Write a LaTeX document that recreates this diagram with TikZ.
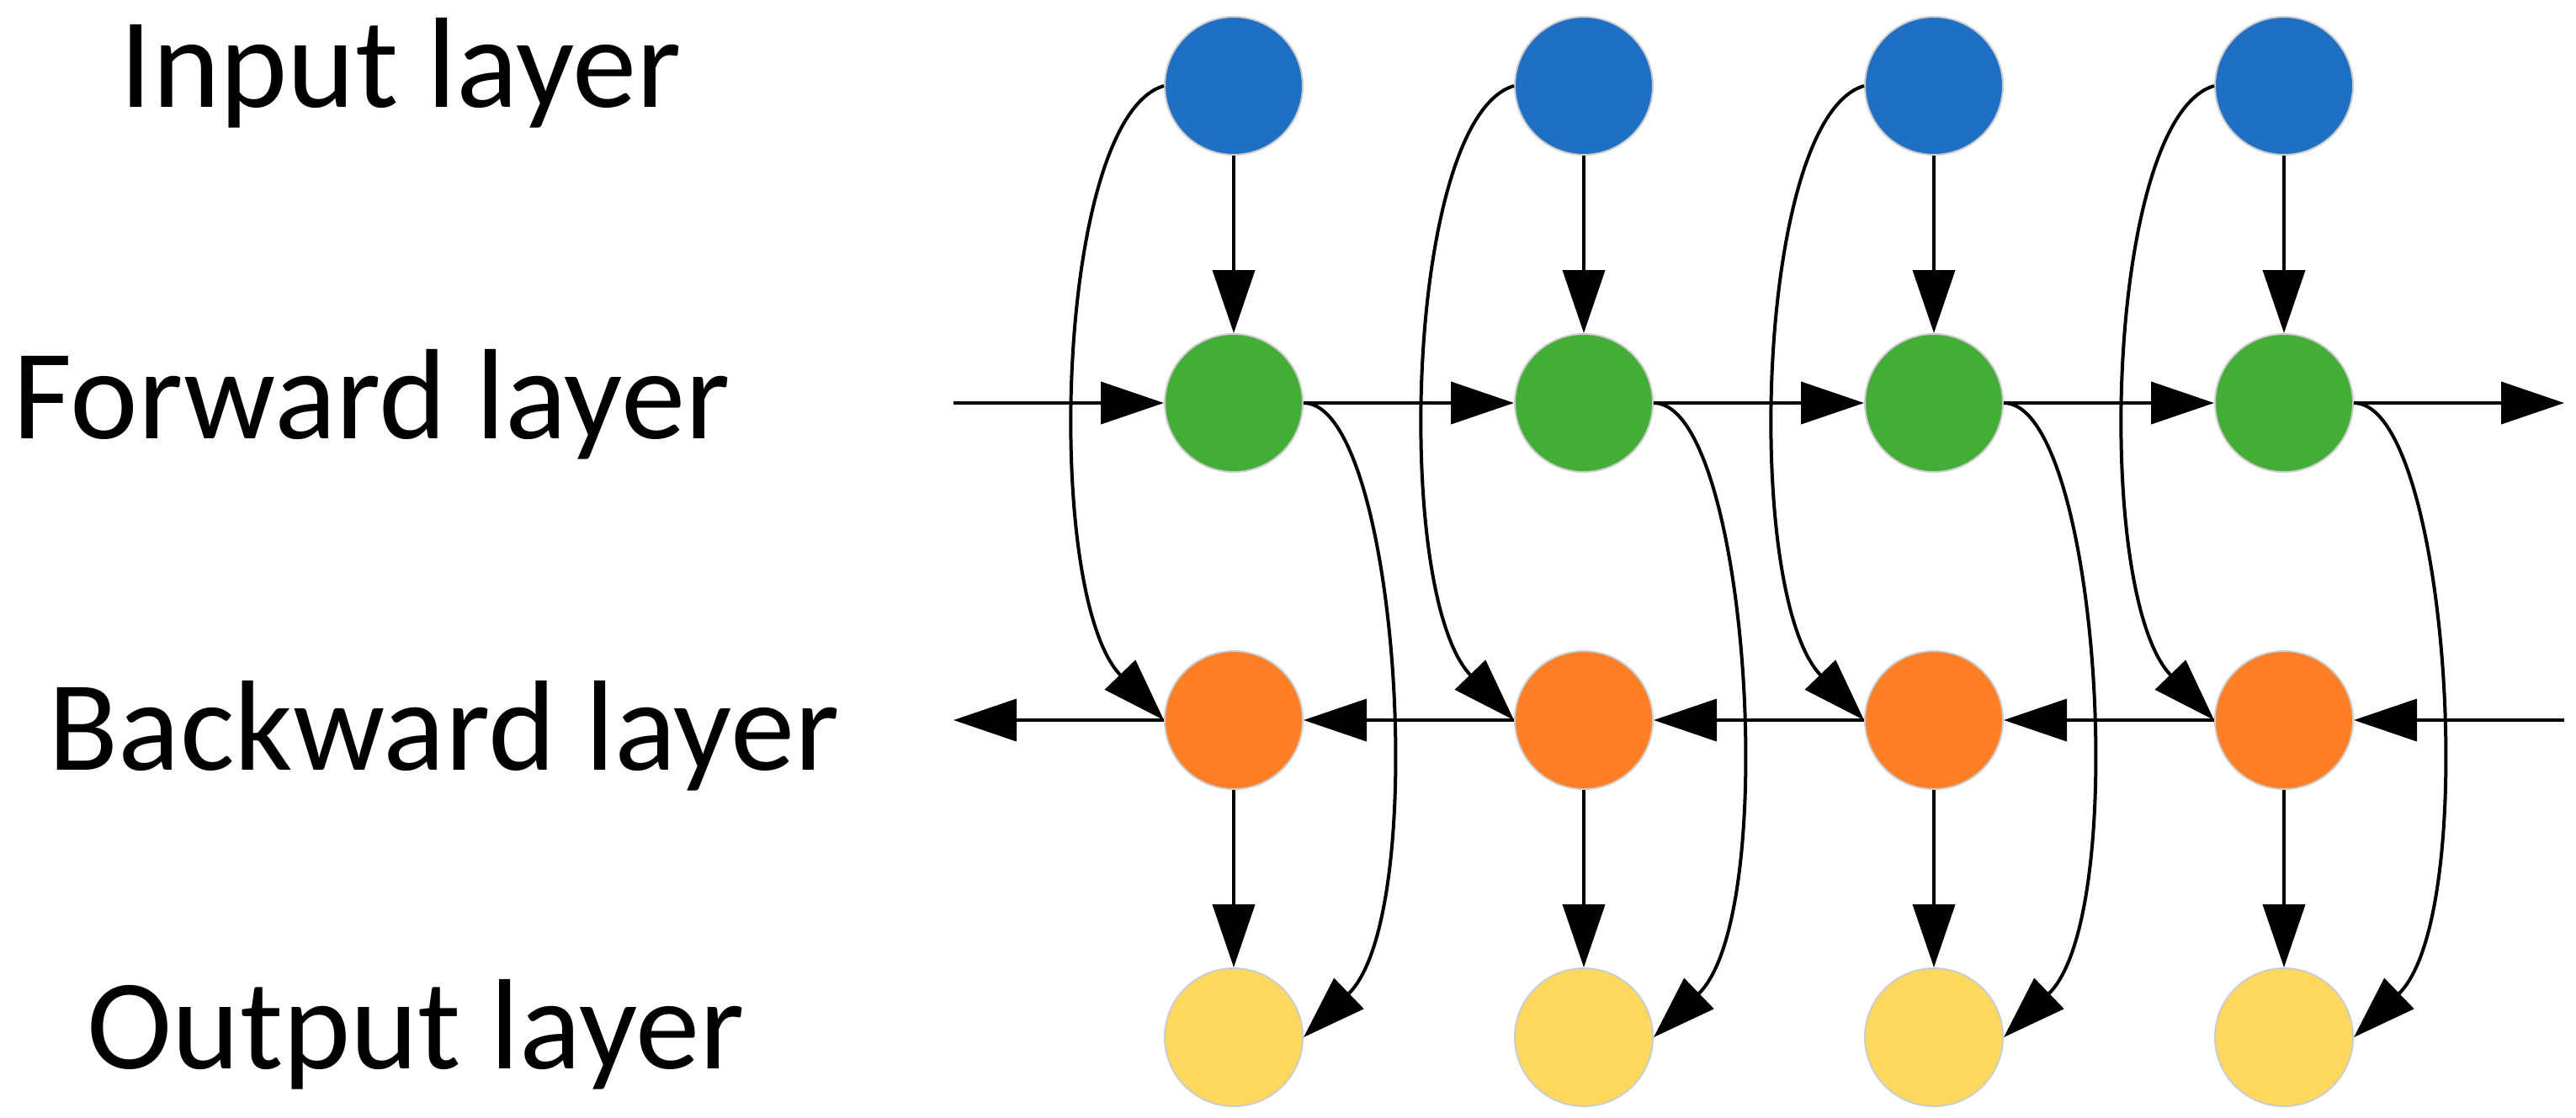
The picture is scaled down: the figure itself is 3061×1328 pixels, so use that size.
\documentclass[tikz,border=0pt]{standalone}
\usepackage{fontspec}
\setmainfont{Carlito}
\usepackage{xcolor}
\usetikzlibrary{arrows.meta,positioning}

\definecolor{inblue}{RGB}{31,112,196}
\definecolor{fwgreen}{RGB}{67,173,55}
\definecolor{bworange}{RGB}{255,127,39}
\definecolor{outyellow}{RGB}{255,217,93}

\begin{document}
\begin{tikzpicture}[
    x=0.1mm, y=-0.1mm,
    font=\fontsize{43.5pt}{50pt}\selectfont,
    >={Triangle[length=7.5mm, width=5mm]},
    node distance=21.1mm and 25mm,
    neuron/.style={circle, draw=black!20, line width=0.2mm, minimum size=16.4mm, inner sep=0pt},
    innode/.style={neuron, fill=inblue},
    fwnode/.style={neuron, fill=fwgreen},
    bwnode/.style={neuron, fill=bworange},
    outnode/.style={neuron, fill=outyellow},
    layer/.style={anchor=base west, inner sep=0pt},
    flow/.style={->, line width=0.4mm}
]
\useasboundingbox (0,0) rectangle (3061,1328);

% row labels
\node[layer] (lin) at (142,127) {Input layer};
\node[layer] (lfw) at (15,521) {Forward layer};
\node[layer] (lbw) at (57,915) {Backward layer};
\node[layer] (lout) at (103,1270) {Output layer};

% units
\node[innode] (in1) at (1466,102) {};
\node[innode, right=of in1] (in2) {};
\node[innode, right=of in2] (in3) {};
\node[innode, right=of in3] (in4) {};
\node[fwnode, below=of in1] (fw1) {};
\node[fwnode, below=of in2] (fw2) {};
\node[fwnode, below=of in3] (fw3) {};
\node[fwnode, below=of in4] (fw4) {};
\node[bwnode, below=of fw1] (bw1) {};
\node[bwnode, below=of fw2] (bw2) {};
\node[bwnode, below=of fw3] (bw3) {};
\node[bwnode, below=of fw4] (bw4) {};
\node[outnode, below=of bw1] (out1) {};
\node[outnode, below=of bw2] (out2) {};
\node[outnode, below=of bw3] (out3) {};
\node[outnode, below=of bw4] (out4) {};

\coordinate (fwin) at ([xshift=-25mm]fw1.west);
\coordinate (fwout) at ([xshift=25mm]fw4.east);
\coordinate (bwin) at ([xshift=25mm]bw4.east);
\coordinate (bwout) at ([xshift=-25mm]bw1.west);

% forward chain
\draw[flow] (fwin) -- (fw1);
\draw[flow] (fw1) -- (fw2);
\draw[flow] (fw2) -- (fw3);
\draw[flow] (fw3) -- (fw4);
\draw[flow] (fw4) -- (fwout);

% backward chain
\draw[flow] (bwin) -- (bw4);
\draw[flow] (bw4) -- (bw3);
\draw[flow] (bw3) -- (bw2);
\draw[flow] (bw2) -- (bw1);
\draw[flow] (bw1) -- (bwout);

% input to forward, backward to output
\draw[flow] (in1) -- (fw1);
\draw[flow] (in2) -- (fw2);
\draw[flow] (in3) -- (fw3);
\draw[flow] (in4) -- (fw4);
\draw[flow] (bw1) -- (out1);
\draw[flow] (bw2) -- (out2);
\draw[flow] (bw3) -- (out3);
\draw[flow] (bw4) -- (out4);

% input to backward
\draw[flow] (in1.west) .. controls +(-129,38) and +(-144,-149) .. (bw1.west);
\draw[flow] (in2.west) .. controls +(-129,38) and +(-144,-149) .. (bw2.west);
\draw[flow] (in3.west) .. controls +(-129,38) and +(-144,-149) .. (bw3.west);
\draw[flow] (in4.west) .. controls +(-129,38) and +(-144,-149) .. (bw4.west);

% forward to output
\draw[flow] (fw1.east) .. controls +(112,0) and +(152,-147) .. (out1.east);
\draw[flow] (fw2.east) .. controls +(112,0) and +(152,-147) .. (out2.east);
\draw[flow] (fw3.east) .. controls +(112,0) and +(152,-147) .. (out3.east);
\draw[flow] (fw4.east) .. controls +(112,0) and +(152,-147) .. (out4.east);
\end{tikzpicture}
\end{document}
